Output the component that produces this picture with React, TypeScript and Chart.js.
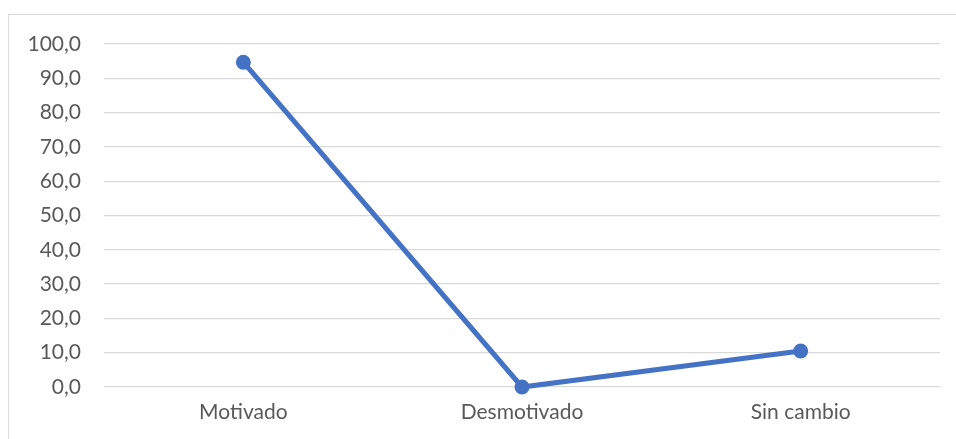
import React, { useEffect, useRef } from "react";
import { Chart, registerables } from "chart.js";

Chart.register(...registerables);

const categories = ["Motivado", "Desmotivado", "Sin cambio"];
const values = [94.7, 0, 10.5];
const yMin = 0;
const yMax = 100;
const yStep = 10;

export default function App() {
  const ref = useRef<HTMLCanvasElement | null>(null);
  useEffect(() => {
    if (!ref.current) return;
    const font = { family: "Lato, 'Open Sans', sans-serif", size: 21 };
    const chart = new Chart(ref.current, {
      type: "line",
      data: {
        labels: categories,
        datasets: [
          {
            data: values,
            borderColor: "#4472C4",
            backgroundColor: "#4472C4",
            borderWidth: 5,
            pointRadius: 7.5,
            pointHoverRadius: 7.5,
            pointBorderWidth: 0,
            tension: 0,
            clip: false,
          },
        ],
      },
      options: {
        animation: false,
        responsive: false,
        devicePixelRatio: 1,
        layout: { padding: { left: 0, right: 16, top: 44, bottom: 0 } },
        plugins: { legend: { display: false }, tooltip: { enabled: false } },
        scales: {
          x: {
            offset: true,
            grid: { display: false, drawTicks: false },
            border: { display: false },
            ticks: { color: "#595959", font, padding: 13 },
            afterFit: (s: any) => {
              s.height = 52;
            },
          },
          y: {
            min: yMin,
            max: yMax,
            grid: { color: "#d9d9d9", lineWidth: 1.3, drawTicks: false },
            border: { display: false },
            ticks: {
              stepSize: yStep,
              color: "#595959",
              font,
              padding: 23,
              callback: (v: any) => Number(v).toFixed(1).replace(".", ","),
            },
            afterFit: (s: any) => {
              s.width = 104;
            },
          },
        },
      },
    });
    return () => chart.destroy();
  }, []);
  return (
    <div style={{ position: "absolute", left: 0, top: 0, width: 956, height: 439, overflow: "hidden", background: "#fff" }}>
      <div
        style={{
          position: "absolute",
          left: 8,
          top: 14,
          width: 980,
          height: 460,
          border: "1px solid #d9d9d9",
          boxSizing: "border-box",
        }}
      />
      <canvas ref={ref} width={956} height={439} style={{ position: "absolute", left: 0, top: 0 }} />
    </div>
  );
}
